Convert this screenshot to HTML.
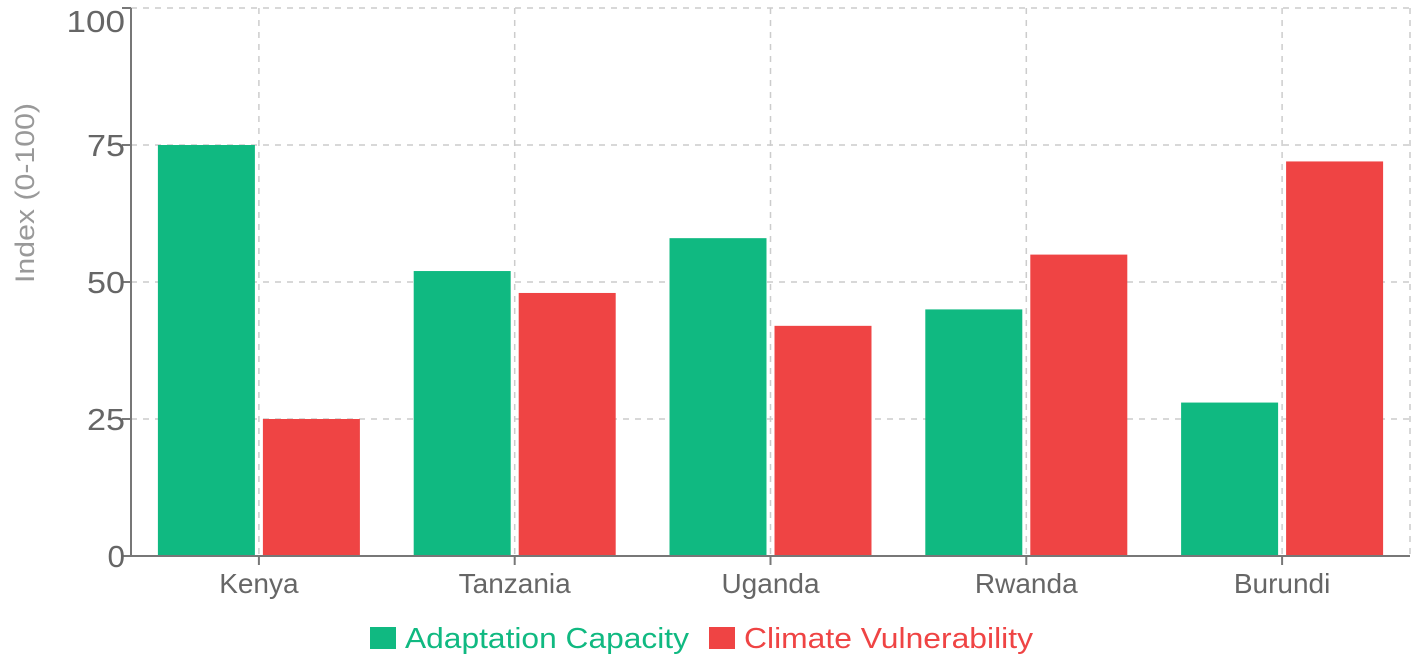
<!DOCTYPE html>
<html><head><meta charset="utf-8"><style>
html,body{margin:0;padding:0;background:#fff;}
svg text{font-family:"Liberation Sans",sans-serif;}
</style></head><body>
<svg id="chart" width="1418" height="662" xmlns="http://www.w3.org/2000/svg"></svg>
<script>
const categories = ["Kenya","Tanzania","Uganda","Rwanda","Burundi"];
const adaptation = [75,52,58,45,28];
const vulnerability = [25,48,42,55,72];
const yTicks = [0,25,50,75,100];

const svg = document.getElementById('chart');
const NS = 'http://www.w3.org/2000/svg';
const X0 = 131, X1 = 1410, Y0 = 556, Y1 = 8;
const band = (X1 - X0) / categories.length;
const y = v => Y0 - (v / 100) * (Y0 - Y1);
const xc = i => X0 + band * (i + 0.5);
function mk(tag, attrs, text) {
  const e = document.createElementNS(NS, tag);
  for (const k in attrs) e.setAttribute(k, attrs[k]);
  if (text !== undefined) e.textContent = text;
  svg.appendChild(e);
  return e;
}
yTicks.forEach(t => {
  if (t === 0) return;
  const g = mk('line', {x1: X0, x2: X1, y1: y(t), y2: y(t), stroke: '#ccc', 'stroke-dasharray': '6 6', 'stroke-width': 1.5});
  
  
});
categories.forEach((c, i) => {
  const g = mk('line', {x1: xc(i), x2: xc(i), y1: Y1, y2: Y0, stroke: '#ccc', 'stroke-dasharray': '6 6', 'stroke-width': 1.5});
  
  
});
const gr = mk('line', {x1: X1, x2: X1, y1: Y1, y2: Y0, stroke: '#ccc', 'stroke-dasharray': '6 6', 'stroke-width': 1.5});


const bw = 97, gap = 8;
categories.forEach((c, i) => {
  const left = xc(i) - gap / 2 - bw;
  const b1 = mk('rect', {x: left, y: y(adaptation[i]), width: bw, height: Y0 - y(adaptation[i]), fill: '#10b981'});
  
  
  const b2 = mk('rect', {x: xc(i) + gap / 2, y: y(vulnerability[i]), width: bw, height: Y0 - y(vulnerability[i]), fill: '#ef4444'});
  
  
});
const ya = mk('line', {x1: X0, x2: X0, y1: Y1, y2: Y0, stroke: '#777', 'stroke-width': 2});


const xa = mk('line', {x1: X0, x2: X1, y1: Y0, y2: Y0, stroke: '#777', 'stroke-width': 2});


yTicks.forEach(t => {
  const tk = mk('line', {x1: X0 - 9, x2: X0, y1: y(t), y2: y(t), stroke: '#777', 'stroke-width': 2});
  
  
  const s = String(t);
  const by = t === 100 ? y(t) + 24 : y(t) + 11;
  const tl = mk('text', {x: X0 - 3 - 20.5 * s.length, y: by, 'font-size': 31, fill: '#666', textLength: 20.5 * s.length - 3, lengthAdjust: 'spacingAndGlyphs'}, s);
  
  
});
categories.forEach((c, i) => {
  const tk = mk('line', {x1: xc(i), x2: xc(i), y1: Y0, y2: Y0 + 9, stroke: '#777', 'stroke-width': 2});
  
  
  const tl = mk('text', {x: xc(i), y: Y0 + 37, 'text-anchor': 'middle', 'font-size': 28, fill: '#666'}, c);
  
  
});
const yt = mk('text', {x: 0, y: 0, transform: 'translate(34,193) rotate(-90)', 'text-anchor': 'middle', 'font-size': 27, fill: '#999', textLength: 180, lengthAdjust: 'spacingAndGlyphs'}, 'Index (0-100)');


const l1 = mk('rect', {x: 370, y: 627, width: 26, height: 22, fill: '#10b981'});


const lt1 = mk('text', {x: 405, y: 648, 'font-size': 29, fill: '#10b981', textLength: 284, lengthAdjust: 'spacingAndGlyphs'}, 'Adaptation Capacity');


const l2 = mk('rect', {x: 709, y: 627, width: 26, height: 22, fill: '#ef4444'});


const lt2 = mk('text', {x: 744, y: 648, 'font-size': 29, fill: '#ef4444', textLength: 289, lengthAdjust: 'spacingAndGlyphs'}, 'Climate Vulnerability');


</script>
</body></html>
